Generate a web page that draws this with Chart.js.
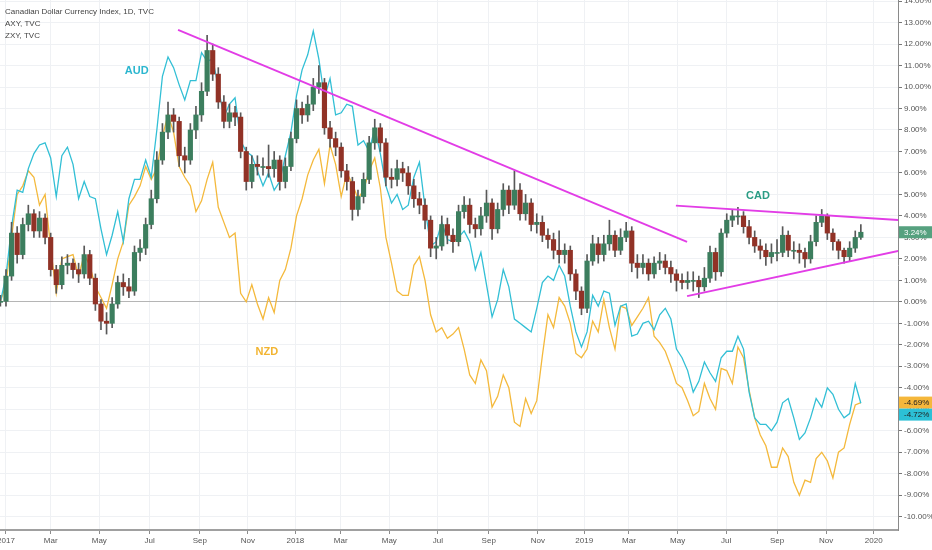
<!DOCTYPE html>
<html>
<head>
<meta charset="utf-8">
<script src="https://cdn.jsdelivr.net/npm/chart.js@4.4.1/dist/chart.umd.min.js"></script>
<style>
  html, body { margin: 0; padding: 0; background: #ffffff; }
  #wrap { width: 932px; height: 550px; position: relative; }
</style>
</head>
<body>
<div id="wrap"><canvas id="chart"></canvas></div>
<script>
// weekly samples, first point is the week before Jan 2017 (week -1), all in % change
const aud = [0,
  1.2, 3.5, 5.2, 5.1, 6.2, 6.9, 7.3, 7.4, 6.7, 4.9,
  6.8, 7.2, 6.4, 4.8, 5.6, 4.9, 4.8, 3.4, 2.2, 3.1,
  4.2, 2.8, 4.8, 5.7, 5.7, 6.6, 5.8, 8.0, 10.5, 11.4,
  10.9, 10.1, 9.4, 10.3, 10.3, 11.6, 11.2, 11.3, 10.0, 8.6,
  9.2, 9.5, 7.5, 7.0, 6.8, 6.1, 5.4, 6.0, 5.2, 5.6,
  6.8, 7.9, 9.6, 10.8, 11.5, 12.6, 11.3, 9.5, 10.4, 8.7,
  8.8, 9.2, 9.1, 7.3, 7.5, 7.0, 8.1, 6.9, 5.4, 4.6,
  5.0, 4.3, 4.5, 5.8, 6.5, 4.4, 2.6, 2.8, 3.7, 2.9,
  2.8, 3.0, 3.3, 2.8, 1.5, 2.3, 0.8, -0.7, 0.1, 1.5,
  0.7, -0.8, -1.0, -1.2, -1.4, -0.3, 0.9, 1.2, 1.0, 1.7,
  1.2, -0.2, -1.4, -2.1, -1.4, 0.3, -0.2, 0.5, 0.4, -1.1,
  -0.2, -0.1, -1.6, -1.5, -1.0, -0.9, -1.3, -0.6, -0.3, -0.8,
  -2.2, -2.6, -3.2, -4.2, -3.7, -2.8, -3.3, -3.7, -2.6, -2.3,
  -2.3, -1.6, -2.2, -4.2, -5.4, -5.7, -5.7, -6.0, -5.6, -4.7,
  -4.5, -5.4, -6.4, -6.1, -5.4, -4.5, -4.9, -4.0, -4.3, -5.0,
  -5.4, -5.2, -3.8, -4.72];

const nzd = [0,
  0.8, 3.0, 5.0, 5.4, 6.1, 5.8, 4.5, 5.0, 2.5, 0.4,
  2.0, 2.1, 2.2, 1.2, 2.2, 1.7, 0.7, 0.2, -0.3, 0.8,
  2.0, 2.8, 4.5, 4.9, 5.4, 6.3, 5.7, 6.2, 7.7, 8.7,
  7.9, 6.3, 5.8, 5.4, 4.2, 4.7, 5.7, 6.5, 4.4, 3.7,
  3.0, 3.2, 0.4, 0.0, 0.8, -0.1, -0.8, 0.2, -0.5, 1.0,
  1.5, 2.5, 4.0, 4.8, 5.9, 6.6, 7.1, 5.5, 7.3, 6.4,
  4.9, 6.0, 5.5, 4.8, 5.2, 6.1, 6.7, 5.3, 3.0, 1.8,
  0.5, 0.3, 0.3, 1.7, 2.1, 1.0, -0.6, -1.4, -1.2, -1.7,
  -1.5, -1.2, -2.2, -3.4, -3.8, -2.7, -3.2, -4.9, -4.4, -3.4,
  -4.0, -5.6, -5.8, -4.5, -5.2, -4.6, -2.5, -0.6, -1.2, 0.2,
  -0.2, -1.0, -2.4, -2.6, -2.2, -0.9, -1.4, 0.1, -1.2, -2.2,
  -0.2, -0.3, -1.1, -0.7, -0.3, 0.2, -1.6, -1.9, -2.3, -3.0,
  -3.8, -4.0, -4.6, -5.3, -5.1, -3.8, -4.5, -5.0, -3.1, -3.2,
  -3.8, -2.1, -2.6, -4.1, -5.4, -6.2, -6.7, -7.7, -7.7, -6.8,
  -7.2, -8.4, -9.0, -8.3, -8.4, -7.3, -7.0, -7.4, -8.2, -7.0,
  -6.8, -5.7, -4.8, -4.69];

// Canadian Dollar Currency Index, weekly OHLC
const cadOpen = [0,
  0, 1.2, 3.2, 2.2, 3.6, 4.1, 3.3, 3.9, 3.0, 1.5,
  0.8, 1.7, 1.8, 1.5, 1.3, 2.2, 1.1, -0.1, -0.9, -1.0,
  -0.1, 0.9, 0.7, 0.5, 2.3, 2.5, 3.6, 4.8, 6.6, 7.9,
  8.7, 8.4, 6.8, 6.6, 8.0, 8.7, 9.8, 11.7, 10.6, 9.3,
  8.4, 8.8, 8.6, 7.0, 5.6, 6.4, 6.3, 6.3, 6.2, 6.6,
  5.6, 6.3, 7.6, 9.0, 8.7, 9.2, 10.0, 10.2, 8.1, 7.6,
  7.2, 6.1, 5.6, 4.3, 4.9, 5.7, 7.4, 8.1, 7.4, 5.8,
  5.7, 6.2, 6.0, 5.4, 4.8, 4.5, 3.8, 2.5, 2.6, 3.6,
  3.1, 2.8, 4.2, 4.5, 3.6, 3.4, 4.0, 4.6, 3.4, 4.3,
  5.2, 4.5, 5.2, 4.1, 4.6, 3.6, 3.7, 3.1, 2.9, 2.4,
  2.2, 2.4, 1.3, 0.5, -0.3, 1.9, 2.7, 2.2, 2.7, 3.1,
  2.4, 3.0, 3.3, 1.8, 1.6, 1.8, 1.3, 1.8, 1.9, 1.6,
  1.3, 1.0, 0.9, 1.0, 1.0, 0.7, 1.1, 2.3, 1.4, 3.2,
  3.8, 4.0, 4.0, 3.5, 3.0, 2.6, 2.4, 2.1, 2.3, 2.3,
  3.1, 2.4, 2.4, 2.3, 2.0, 2.8, 3.7, 4.0, 3.2, 2.8,
  2.4, 2.1, 2.5, 3.0];

const cadClose = [0,
  1.2, 3.2, 2.2, 3.6, 4.1, 3.3, 3.9, 3.0, 1.5, 0.8,
  1.7, 1.8, 1.5, 1.3, 2.2, 1.1, -0.1, -0.9, -1.0, -0.1,
  0.9, 0.7, 0.5, 2.3, 2.5, 3.6, 4.8, 6.6, 7.9, 8.7,
  8.4, 6.8, 6.6, 8.0, 8.7, 9.8, 11.7, 10.6, 9.3, 8.4,
  8.8, 8.6, 7.0, 5.6, 6.4, 6.3, 6.3, 6.2, 6.6, 5.6,
  6.3, 7.6, 9.0, 8.7, 9.2, 10.0, 10.2, 8.1, 7.6, 7.2,
  6.1, 5.6, 4.3, 4.9, 5.7, 7.4, 8.1, 7.4, 5.8, 5.7,
  6.2, 6.0, 5.4, 4.8, 4.5, 3.8, 2.5, 2.6, 3.6, 3.1,
  2.8, 4.2, 4.5, 3.6, 3.4, 4.0, 4.6, 3.4, 4.3, 5.2,
  4.5, 5.2, 4.1, 4.6, 3.6, 3.7, 3.1, 2.9, 2.4, 2.2,
  2.4, 1.3, 0.5, -0.3, 1.9, 2.7, 2.2, 2.7, 3.1, 2.4,
  3.0, 3.3, 1.8, 1.6, 1.8, 1.3, 1.8, 1.9, 1.6, 1.3,
  1.0, 0.9, 1.0, 1.0, 0.7, 1.1, 2.3, 1.4, 3.2, 3.8,
  4.0, 4.0, 3.5, 3.0, 2.6, 2.4, 2.1, 2.3, 2.3, 3.1,
  2.4, 2.4, 2.3, 2.0, 2.8, 3.7, 4.0, 3.2, 2.8, 2.4,
  2.1, 2.5, 3.0, 3.24];

const cadHigh = [0.3,
  1.5, 3.7, 3.5, 3.9, 4.5, 4.3, 4.2, 4.1, 3.2, 1.7,
  2.1, 2.2, 2.0, 1.8, 2.6, 2.4, 1.3, 0.1, -0.5, 0.2,
  1.2, 1.3, 1.1, 2.6, 2.9, 3.9, 5.2, 7.0, 8.3, 9.3,
  9.0, 8.6, 7.2, 8.3, 9.1, 10.2, 12.4, 12.0, 10.9, 9.6,
  9.2, 9.1, 8.8, 7.2, 6.8, 6.8, 6.7, 7.3, 7.0, 6.8,
  6.7, 7.9, 9.4, 9.3, 9.6, 10.4, 11.0, 10.4, 8.4, 7.9,
  7.4, 6.4, 5.8, 5.2, 6.0, 7.7, 8.5, 8.3, 7.6, 6.2,
  6.6, 6.5, 6.3, 5.7, 5.1, 4.8, 4.0, 3.0, 4.0, 3.9,
  3.4, 4.5, 4.9, 4.8, 3.9, 4.4, 5.2, 4.8, 4.6, 5.5,
  5.4, 6.1, 5.5, 5.0, 4.8, 4.1, 4.0, 3.4, 3.2, 3.3,
  2.7, 2.6, 1.5, 0.7, 2.2, 3.1, 3.0, 3.1, 3.8, 3.3,
  3.4, 3.7, 3.5, 2.2, 2.2, 2.0, 2.1, 2.3, 2.2, 1.9,
  1.5, 1.3, 1.4, 1.4, 1.2, 1.6, 2.6, 2.5, 3.4, 4.1,
  4.3, 4.4, 4.2, 3.8, 3.3, 2.9, 2.7, 2.7, 2.9, 3.5,
  3.3, 2.8, 2.7, 2.5, 3.1, 4.0, 4.3, 4.1, 3.4, 2.9,
  2.5, 2.8, 3.3, 3.6];

const cadLow = [-0.2,
  -0.2, 1.0, 1.8, 2.0, 3.3, 3.0, 3.0, 2.7, 1.2, 0.4,
  0.6, 1.3, 1.1, 0.9, 1.1, 0.8, -0.4, -1.3, -1.5, -1.2,
  -0.3, 0.3, 0.2, 0.3, 1.9, 2.2, 3.4, 4.6, 6.4, 7.6,
  7.9, 6.3, 6.0, 6.4, 7.6, 8.4, 9.6, 10.3, 9.0, 8.1,
  8.1, 8.2, 6.7, 5.2, 5.3, 5.9, 5.9, 5.8, 5.8, 5.2,
  5.3, 6.1, 7.4, 8.3, 8.4, 8.9, 9.7, 7.8, 7.2, 6.8,
  5.8, 5.2, 3.8, 4.0, 4.6, 5.5, 7.1, 7.0, 5.4, 5.3,
  5.4, 5.6, 5.0, 4.4, 4.1, 3.4, 2.1, 2.0, 2.4, 2.7,
  2.3, 2.6, 3.9, 3.2, 3.0, 3.1, 3.7, 2.9, 3.2, 4.0,
  4.1, 4.3, 3.8, 3.8, 3.3, 3.2, 2.8, 2.5, 2.0, 1.8,
  1.8, 1.0, 0.1, -0.6, -0.5, 1.7, 1.8, 1.9, 2.4, 2.1,
  2.2, 2.8, 1.4, 1.1, 1.3, 1.0, 1.1, 1.5, 1.3, 0.9,
  0.5, 0.6, 0.6, 0.5, 0.2, 0.5, 0.9, 1.0, 1.2, 3.0,
  3.5, 3.6, 3.2, 2.7, 2.3, 2.0, 1.7, 1.8, 1.9, 2.1,
  2.1, 2.0, 1.8, 1.6, 1.8, 2.6, 3.5, 2.9, 2.4, 2.0,
  1.8, 1.9, 2.3, 2.9];

// x axis: week index (week 0 = first week of 2017); tick positions
const tickWeeks = [0, 8.0, 16.7, 25.7, 34.7, 43.3, 51.8, 59.9, 68.6, 77.3, 86.4, 95.2,
  103.5, 111.5, 120.2, 128.9, 138.0, 146.8, 155.3];
const tickLabels = ['2017', 'Mar', 'May', 'Jul', 'Sep', 'Nov', '2018', 'Mar', 'May', 'Jul', 'Sep', 'Nov',
  '2019', 'Mar', 'May', 'Jul', 'Sep', 'Nov', '2020'];
const yTicks = [-10, -9, -8, -7, -6, -5, -4, -3, -2, -1, 0, 1, 2, 3, 4, 5, 6, 7, 8, 9, 10, 11, 12, 13, 14];

// drawn trend lines (week, %)
const resistWeeks = [30.8, 121.9], resistVals = [12.66, 2.79];
const wedgeTopWeeks = [119.9, 159.7], wedgeTopVals = [4.48, 3.81];
const wedgeLowWeeks = [121.9, 159.7], wedgeLowVals = [0.27, 2.37];

const weekIdx = cadClose.map((_, i) => i - 1);

const FONT = '"Liberation Sans", Arial, sans-serif';
const UP = '#3c7e5e', DOWN = '#913226', WICK = '#585858';
const AUD_C = '#32bfd5', NZD_C = '#f4b93c', TREND_C = '#e23de6';

const pts = vals => vals.map((v, i) => ({ x: weekIdx[i], y: v }));
const seg = (xs, ys) => xs.map((x, i) => ({ x: x, y: ys[i] }));

const overlay = {
  id: 'overlay',
  afterDraw(chart) {
    const { ctx, scales } = chart;
    ctx.save();
    // pane legend
    ctx.fillStyle = '#444444';
    ctx.font = '8px ' + FONT;
    ctx.textBaseline = 'middle';
    ctx.textAlign = 'left';
    ctx.fillText('Canadian Dollar Currency Index, 1D, TVC', 5, 12);
    ctx.fillText('AXY, TVC', 5, 24);
    ctx.fillText('ZXY, TVC', 5, 36);

    // series names
    ctx.font = 'bold 11px ' + FONT;
    ctx.textAlign = 'center';
    const names = [['AUD', 23.4, 10.75, '#2bb6cf'], ['NZD', 46.7, -2.33, '#f2b431'], ['CAD', 134.6, 4.93, '#2a9c84']];
    names.forEach(n => {
      ctx.fillStyle = n[3];
      ctx.fillText(n[0], scales.x.getPixelForValue(n[1]), scales.y.getPixelForValue(n[2]));
    });

    // last value tags on the price axis
    const tags = [
      { v: cadClose[cadClose.length - 1], bg: '#56a17f', fg: '#ffffff' },
      { v: nzd[nzd.length - 1], bg: '#f5b73b', fg: '#222222' },
      { v: aud[aud.length - 1], bg: '#2cc0d6', fg: '#222222' }
    ];
    tags.forEach(t => { t.y = scales.y.getPixelForValue(t.v); });
    tags.sort((a, b) => a.y - b.y);
    const h = 12;
    for (let i = 1; i < tags.length; i++) {
      if (tags[i].y - tags[i - 1].y < h) tags[i].y = tags[i - 1].y + h;
    }
    const left = chart.chartArea.right + 1;
    ctx.font = '8px ' + FONT;
    ctx.textAlign = 'left';
    tags.forEach(t => {
      ctx.fillStyle = t.bg;
      ctx.fillRect(left, t.y - h / 2, chart.width - left, h);
      ctx.fillStyle = t.fg;
      ctx.fillText(t.v.toFixed(2) + '%', left + 5, t.y + 0.5);
    });
    ctx.restore();
  }
};

new Chart(document.getElementById('chart'), {
  type: 'line',
  data: {
    datasets: [
      {
        label: 'ZXY', data: pts(nzd), borderColor: NZD_C, borderWidth: 1.3,
        pointRadius: 0, tension: 0, order: 6
      },
      {
        label: 'AXY', data: pts(aud), borderColor: AUD_C, borderWidth: 1.3,
        pointRadius: 0, tension: 0, order: 5
      },
      {
        type: 'bar', label: 'CAD wick',
        data: cadLow.map((lo, i) => ({ x: weekIdx[i], y: [lo, cadHigh[i]] })),
        backgroundColor: WICK, barThickness: 1, grouped: false, order: 4
      },
      {
        type: 'bar', label: 'CAD',
        data: cadOpen.map((o, i) => ({ x: weekIdx[i], y: [o, cadClose[i]] })),
        backgroundColor: c => (cadClose[c.dataIndex] >= cadOpen[c.dataIndex] ? UP : DOWN),
        barThickness: 4.5, grouped: false, minBarLength: 1, order: 3
      },
      {
        label: 'resistance', data: seg(resistWeeks, resistVals), borderColor: TREND_C,
        borderWidth: 1.8, pointRadius: 0, order: 1
      },
      {
        label: 'wedge top', data: seg(wedgeTopWeeks, wedgeTopVals), borderColor: TREND_C,
        borderWidth: 1.8, pointRadius: 0, order: 1
      },
      {
        label: 'wedge low', data: seg(wedgeLowWeeks, wedgeLowVals), borderColor: TREND_C,
        borderWidth: 1.8, pointRadius: 0, order: 1
      }
    ]
  },
  options: {
    responsive: true,
    maintainAspectRatio: false,
    animation: false,
    layout: { padding: 0 },
    plugins: { legend: { display: false }, tooltip: { enabled: false } },
    scales: {
      x: {
        type: 'linear', min: -1.07, max: 159.65, offset: false,
        grid: { color: '#eff1f4', offset: false, tickLength: 4, tickColor: '#8c8c8c' },
        border: { color: '#a0a0a0', width: 2 },
        ticks: {
          autoSkip: false, maxRotation: 0, padding: 2, color: '#555555',
          font: { size: 8, family: FONT },
          callback: (v, i) => tickLabels[i]
        },
        afterBuildTicks: s => { s.ticks = tickWeeks.map(v => ({ value: v })); },
        afterFit: s => { s.height = 20; s.paddingLeft = 0; s.paddingRight = 0; }
      },
      y: {
        type: 'linear', position: 'right', min: -10.62, max: 14.05,
        grid: {
          color: c => (c.tick && c.tick.value === 0 ? '#b5b5b5' : '#eff1f4'),
          tickLength: 4, tickColor: '#777777'
        },
        border: { color: '#8a8a8a', width: 1 },
        ticks: {
          padding: 2, color: '#555555', font: { size: 8, family: FONT },
          callback: v => v.toFixed(2) + '%'
        },
        afterBuildTicks: s => { s.ticks = yTicks.map(v => ({ value: v })); },
        afterFit: s => { s.width = 34; s.paddingTop = 0; s.paddingBottom = 0; }
      }
    }
  },
  plugins: [overlay]
});
</script>
</body>
</html>
